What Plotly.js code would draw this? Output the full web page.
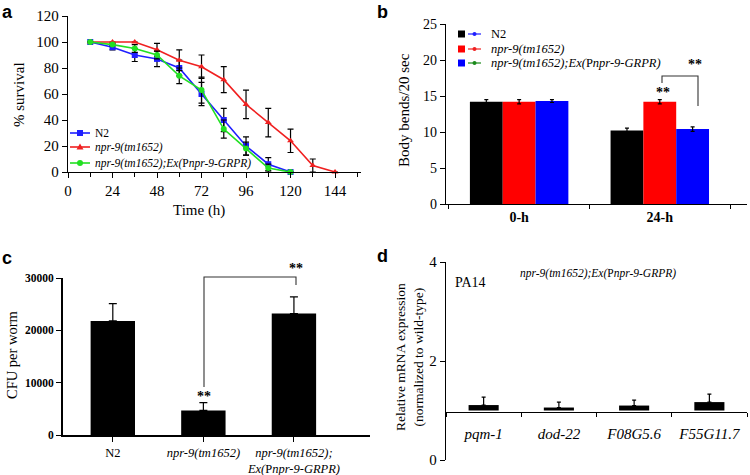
<!DOCTYPE html>
<html><head><meta charset="utf-8">
<script src="https://cdn.plot.ly/plotly-3.0.1.min.js"></script>
<style>html,body{margin:0;padding:0;background:#fff}#chart{width:750px;height:475px}</style>
</head><body><div id="chart"></div>
<script>
// ---------- Panel a: survival ----------
const timeN2 = [12,24,36,48,60,72,84,96,108,120];
const survN2 = [100,96,90,87,80,60,40,20,6,0];
const errN2  = [0,2,5,6,6,9,9,7,5,0];
const timeMut = [12,24,36,48,60,72,84,96,108,120,132,144];
const survMut = [100,100,100,94,86,81,71,52,38,24,5,0];
const errMut  = [0,0,0,5,8,9,10,11,11,9,5,0];
const timeRes = [12,24,36,48,60,72,84,96,108,120];
const survRes = [100,98,95,90,74,63,33,18,3,0];
const errRes  = [0,1,3,3,6,10,7,5,3,0];
const legendA = ['N2','<i>npr-9(tm1652)</i>','<i>npr-9(tm1652);Ex(</i>P<i>npr-9-GRPR)</i>'];

// ---------- Panel b: body bends ----------
const timepointsB = ['0-h','24-h'];
const bendsN2  = [14.2,10.2];
const bendsMut = [14.2,14.2];
const bendsRes = [14.3,10.4];
const bendsErrN2  = [0.3,0.35];
const bendsErrMut = [0.3,0.3];
const bendsErrRes = [0.2,0.3];
const legendB = ['N2','<i>npr-9(tm1652)</i>','<i>npr-9(tm1652);Ex(</i>P<i>npr-9-GRPR)</i>'];

// ---------- Panel c: CFU ----------
const strainsC = ['N2','npr-9(tm1652)','npr-9(tm1652);Ex(Pnpr-9-GRPR)'];
const strainLabelsC = ['N2','<i>npr-9(tm1652)</i>','<i>npr-9(tm1652);</i><br><i>Ex(</i>P<i>npr-9-GRPR)</i>'];
const cfu = [21800,4700,23200];
const cfuErr = [3300,1500,3200];

// ---------- Panel d: mRNA ----------
const genesD = ['pqm-1','dod-22','F08G5.6','F55G11.7'];
const exprD = [1.11,1.06,1.10,1.17];
const exprErrD = [0.16,0.11,0.11,0.16];
const exprBase = 1;

const SERIF = '"Liberation Serif", "Times New Roman", serif';
const SANS = '"Liberation Sans", Arial, sans-serif';
const px = v => v/750, py = v => 1 - v/475;

const errBar = (arr, w) => ({type:'data', array:arr, visible:true, color:'#000', thickness:1.2, width:w});
const upErr = (arr, w) => ({type:'data', symmetric:false, array:arr, arrayminus:arr.map(()=>0), visible:true, color:'#000', thickness:1.2, width:w});

const colA = ['#1f1fff','#f02020','#22e022'];
const symA = ['square','triangle-up','circle'];

const traces = [
  {x:timeN2, y:survN2, name:legendA[0], type:'scatter', mode:'lines+markers', xaxis:'x', yaxis:'y',
   line:{color:colA[0], width:1.6}, marker:{symbol:symA[0], size:6, color:colA[0]},
   error_y:errBar(errN2,3), cliponaxis:false, showlegend:false},
  {x:timeMut, y:survMut, name:legendA[1], type:'scatter', mode:'lines+markers', xaxis:'x', yaxis:'y',
   line:{color:colA[1], width:1.6}, marker:{symbol:symA[1], size:6, color:colA[1]},
   error_y:errBar(errMut,3), cliponaxis:false, showlegend:false},
  {x:timeRes, y:survRes, name:legendA[2], type:'scatter', mode:'lines+markers', xaxis:'x', yaxis:'y',
   line:{color:colA[2], width:1.6}, marker:{symbol:symA[2], size:6, color:colA[2]},
   error_y:errBar(errRes,3), cliponaxis:false, showlegend:false},

  {x:timepointsB, y:bendsN2, type:'bar', xaxis:'x2', yaxis:'y2', marker:{color:'#000'}, showlegend:false, error_y:errBar(bendsErrN2,2)},
  {x:timepointsB, y:bendsMut, type:'bar', xaxis:'x2', yaxis:'y2', marker:{color:'#ff0000'}, showlegend:false, error_y:errBar(bendsErrMut,2)},
  {x:timepointsB, y:bendsRes, type:'bar', xaxis:'x2', yaxis:'y2', marker:{color:'#0000ff'}, showlegend:false, error_y:errBar(bendsErrRes,2)},

  {x:strainsC, y:cfu, type:'bar', xaxis:'x3', yaxis:'y3', width:0.49, marker:{color:'#000'}, showlegend:false, error_y:upErr(cfuErr,4)},

  {x:genesD, y:exprD.map(v=>v-exprBase), base:exprBase, type:'bar', xaxis:'x4', yaxis:'y4', width:0.4, marker:{color:'#000'}, showlegend:false, error_y:upErr(exprErrD,2)}
];

const axBase = {showline:true, linecolor:'#000', linewidth:1.3, ticks:'outside', ticklen:5, tickcolor:'#000', showgrid:false, zeroline:false,
  tickfont:{family:SERIF, size:15, color:'#000'}};

const ann = (text, x, y, opts={}) => Object.assign({text, x:px(x), y:py(y), xref:'paper', yref:'paper', showarrow:false,
  xanchor:'center', yanchor:'middle', font:{family:SERIF, size:15, color:'#000'}}, opts);
const letterFont = {family:SANS, size:18, color:'#000', weight:'bold'};

const annotations = [
  ann('a',7,12,{font:letterFont}),
  ann('b',382,12,{font:letterFont}),
  ann('c',7,258,{font:letterFont}),
  ann('d',382,256,{font:letterFont}),
  ann('% survival',19,95,{textangle:-90}),
  ann('Time (h)',199,210),
  ann('Body bends/20 sec',404,110,{textangle:-90}),
  ann('CFU per worm',12,355,{textangle:-90, font:{family:SERIF, size:14.5, color:'#000'}}),
  ann('Relative mRNA expression<br>(normalized to wild-type)',409,357,{textangle:-90, font:{family:SERIF, size:13.5, color:'#000'}}),
  ann('PA14',470,282,{font:{family:SERIF, size:14, color:'#000'}}),
  ann('<i>npr-9(tm1652);Ex(</i>P<i>npr-9-GRPR)</i>',598,273,{font:{family:SERIF, size:11.5, color:'#000'}}),
  ann('**',663,92,{font:{family:SERIF, size:14, color:'#000', weight:'bold'}}),
  ann('**',695,64,{font:{family:SERIF, size:14, color:'#000', weight:'bold'}}),
  ann('**',204,396,{font:{family:SERIF, size:14, color:'#000', weight:'bold'}}),
  ann('**',296,268,{font:{family:SERIF, size:14, color:'#000', weight:'bold'}})
];

const shapes = [];
// Panel a manual legend
const legRowsA = [133,147,163];
legRowsA.forEach((yy,i)=>{
  shapes.push({type:'line', xref:'paper', yref:'paper', x0:px(70), x1:px(90), y0:py(yy), y1:py(yy), line:{color:colA[i], width:1.6}});
  if (i===0) shapes.push({type:'rect', xref:'paper', yref:'paper', x0:px(77), x1:px(83), y0:py(yy+3), y1:py(yy-3), fillcolor:colA[i], line:{width:0}});
  if (i===1) shapes.push({type:'path', xref:'paper', yref:'paper', path:'M'+px(76.5)+','+py(yy+2.5)+' L'+px(83.5)+','+py(yy+2.5)+' L'+px(80)+','+py(yy-3.5)+' Z', fillcolor:colA[i], line:{width:0}});
  if (i===2) shapes.push({type:'circle', xref:'paper', yref:'paper', x0:px(77), x1:px(83), y0:py(yy+3), y1:py(yy-3), fillcolor:colA[i], line:{width:0}});
  annotations.push(ann(legendA[i],93,yy,{xanchor:'left', font:{family:SERIF, size:11.5, color:'#000'}}));
});
// Panel b manual legend
const legColsSq = ['#000','#ff0000','#0000ff'];
const legColsLn = ['#1f1fff','#f02020','#1a8a1a'];
const legRows = [34,49,63];
legRows.forEach((yy,i)=>{
  shapes.push({type:'rect', xref:'paper', yref:'paper', x0:px(458), x1:px(465), y0:py(yy+3.5), y1:py(yy-3.5), fillcolor:legColsSq[i], line:{width:0}});
  shapes.push({type:'line', xref:'paper', yref:'paper', x0:px(468), x1:px(481), y0:py(yy), y1:py(yy), line:{color:legColsLn[i], width:1.2}});
  shapes.push({type:'circle', xref:'paper', yref:'paper', x0:px(472.5), x1:px(476.5), y0:py(yy+2), y1:py(yy-2), fillcolor:legColsLn[i], line:{width:0}});
  annotations.push(ann(legendB[i],489,yy,{xanchor:'left', font:{family:SERIF, size:12.5, color:'#000'}}));
});
// brackets
const br = (pts) => ({type:'path', xref:'paper', yref:'paper', path:'M'+pts.map(p=>px(p[0])+','+py(p[1])).join(' L'), line:{color:'#333', width:1.1}});
shapes.push(br([[662,83],[662,76],[698,76],[698,106]]));
shapes.push(br([[204,387],[204,277],[296,277],[296,285]]));

const layout = {
  width:750, height:475, margin:{l:0,r:0,t:0,b:0}, paper_bgcolor:'#fff', plot_bgcolor:'rgba(0,0,0,0)',
  barmode:'group', bargap:0.30, bargroupgap:0,
  showlegend:false,
  font:{family:SERIF, color:'#000'},
  xaxis:Object.assign({}, axBase, {domain:[px(68),px(361)], range:[0,158], anchor:'y', dtick:24, tick0:0,
    minor:{dtick:12, ticks:'outside', ticklen:4, tickcolor:'#000'}}),
  yaxis:Object.assign({}, axBase, {domain:[py(172),py(16)], range:[0,120], dtick:20, anchor:'x'}),
  xaxis2:Object.assign({}, axBase, {domain:[px(446),px(747)], range:[-0.52,1.62], anchor:'y2', type:'category', tickson:'boundaries', ticklen:4,
    tickfont:{family:SERIF, size:14, color:'#000', weight:'bold'}}),
  yaxis2:Object.assign({}, axBase, {domain:[py(204),py(24)], range:[0,25], dtick:5, anchor:'x2', tickfont:{family:SERIF, size:14, color:'#000'}}),
  xaxis3:Object.assign({}, axBase, {domain:[px(63),px(370)], range:[-0.55,2.84], anchor:'y3', type:'category', linewidth:2,
    tickmode:'array', tickvals:strainsC, ticktext:strainLabelsC, tickfont:{family:SERIF, size:12.5, color:'#000'}}),
  yaxis3:Object.assign({}, axBase, {domain:[py(435),py(278)], range:[0,30000], dtick:10000, anchor:'x3', linewidth:2, tickformat:'d',
    tickfont:{family:SERIF, size:11.5, color:'#000', weight:'bold'}}),
  xaxis4:Object.assign({}, axBase, {domain:[px(446),px(747)], range:[-0.5,3.5], anchor:'free', position:py(412), type:'category', tickson:'boundaries', ticklen:4,
    ticklabelstandoff:8, tickfont:{family:SERIF, size:15, color:'#000', style:'italic'}}),
  yaxis4:Object.assign({}, axBase, {domain:[py(460),py(262)], range:[0,4], dtick:2, anchor:'x4'}),
  annotations, shapes
};

Plotly.newPlot('chart', traces, layout, {staticPlot:true});
</script></body></html>
